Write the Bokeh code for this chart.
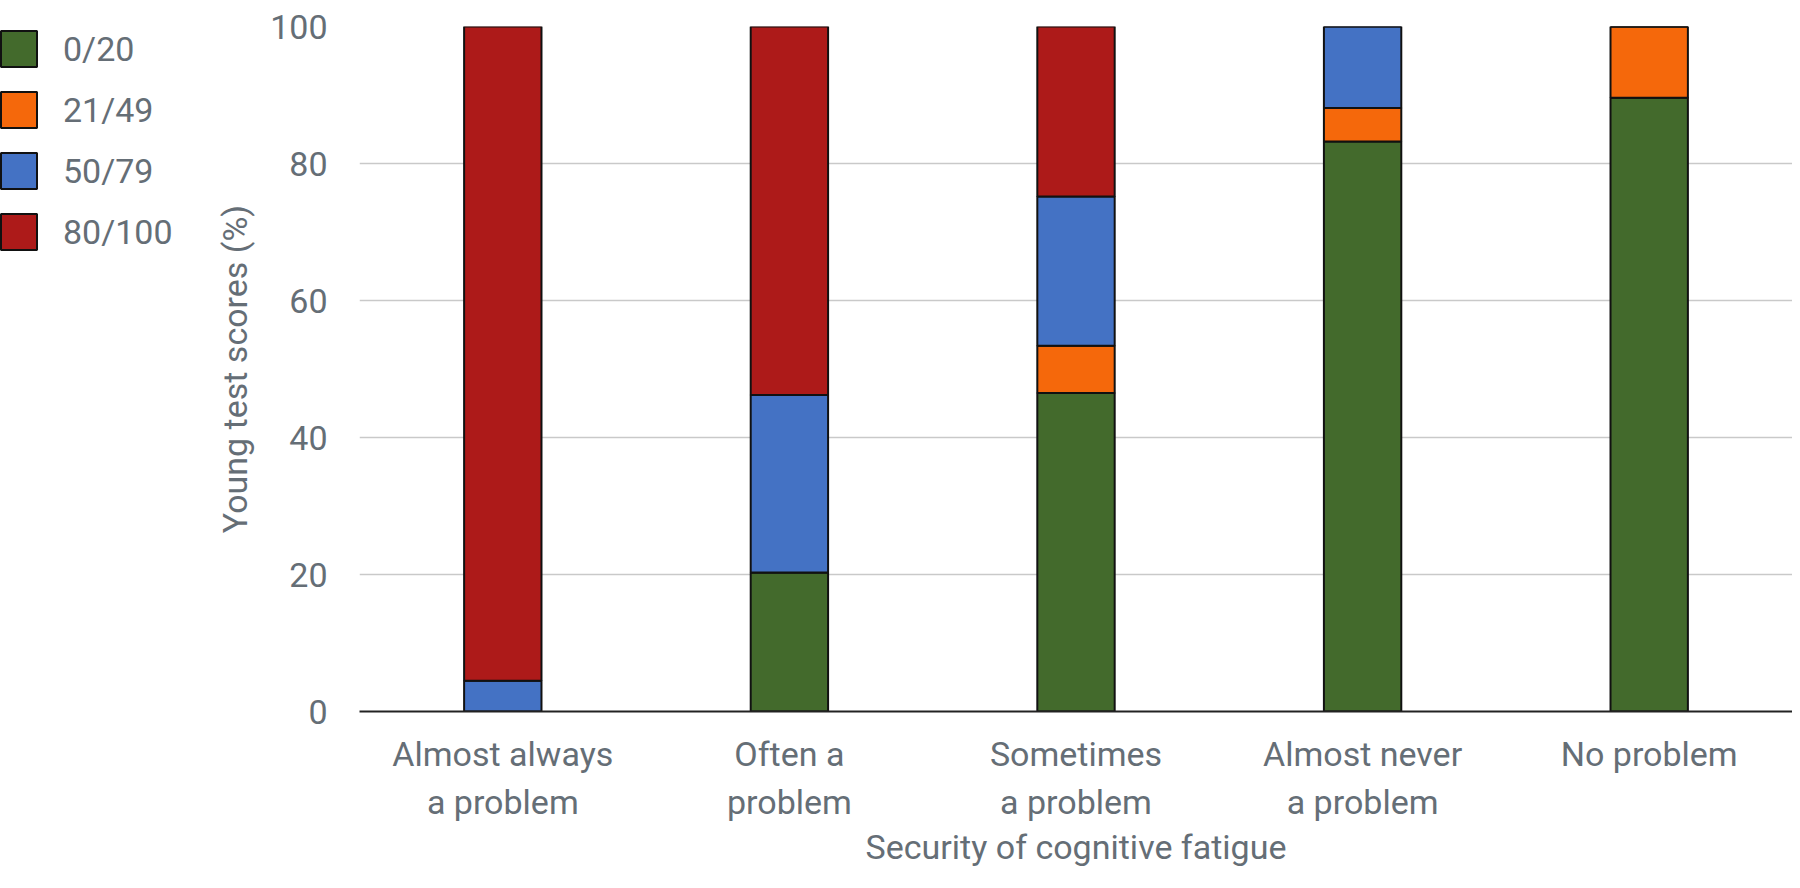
from bokeh.plotting import figure
from bokeh.models import FactorRange, Range1d, FixedTicker, Legend, LegendItem
from bokeh.layouts import row
from bokeh.embed import file_html
from bokeh.resources import INLINE

categories = ["Almost always\na problem", "Often a\nproblem", "Sometimes\na problem",
              "Almost never\na problem", "No problem"]
series_names = ["0/20", "21/49", "50/79", "80/100"]
s0_20 = [0.0, 20.3, 46.5, 83.2, 89.6]
s21_49 = [0.0, 0.0, 6.9, 4.9, 10.4]
s50_79 = [4.5, 25.9, 21.8, 11.9, 0.0]
s80_100 = [95.5, 53.8, 24.8, 0.0, 0.0]
y_ticks = [0, 20, 40, 60, 80, 100]

colors = ["#436A2C", "#F5680B", "#4472C4", "#AD1A19"]
FONT = "Roboto"
TXT = "#656e76"
FS = "34px"
H = 872
LEG_W = 200
TOP = 26
BOTTOM = 161

data = {"cat": categories, "0/20": s0_20, "21/49": s21_49, "50/79": s50_79, "80/100": s80_100}

# main chart
p = figure(x_range=FactorRange(*categories, range_padding=0), y_range=Range1d(0, 100),
           width=1792 - LEG_W, height=H, output_backend="svg", toolbar_location=None,
           min_border_left=359 - LEG_W, min_border_right=0, min_border_top=TOP,
           min_border_bottom=BOTTOM)

p.vbar_stack(series_names, x="cat", width=0.27, color=colors, source=data,
             line_color="#111111", line_width=2)

p.outline_line_color = None
p.xgrid.grid_line_color = None
p.ygrid.grid_line_color = "#c9c9c9"
p.ygrid.grid_line_width = 1.5
p.yaxis.ticker = FixedTicker(ticks=y_ticks)

for ax in (p.xaxis[0], p.yaxis[0]):
    ax.major_tick_line_color = None
    ax.minor_tick_line_color = None
    ax.major_label_text_font = FONT
    ax.major_label_text_font_size = FS
    ax.major_label_text_color = TXT
    ax.axis_label_text_font = FONT
    ax.axis_label_text_font_size = FS
    ax.axis_label_text_color = TXT
    ax.axis_label_text_font_style = "normal"

p.yaxis.axis_line_color = None
p.yaxis.major_label_standoff = 26
p.yaxis.axis_label = "Young test scores (%)"
p.yaxis.axis_label_standoff = 12
p.xaxis.axis_line_color = "#222222"
p.xaxis.axis_line_width = 2
p.xaxis.major_label_standoff = 16
p.xaxis.major_label_text_line_height = 1.22
p.xaxis.axis_label = "Security of cognitive fatigue"
p.xaxis.axis_label_standoff = 2

# legend panel: the same stacked bars, viewed below their values (so nothing of them
# shows in this panel); only their legend entries are seen
lf = figure(x_range=FactorRange(*categories), y_range=Range1d(-101, -100),
            width=LEG_W, height=H, output_backend="svg", toolbar_location=None,
            x_axis_type=None, y_axis_type=None, min_border=0)
lf.outline_line_color = None
lrs = lf.vbar_stack(series_names, x="cat", width=0.27, color=colors, source=data,
                    line_color="#111111", line_width=2)

frame_h = H - TOP - BOTTOM
leg_h = 4 * 45 + 3 * 16
legend = Legend(items=[LegendItem(label=n, renderers=[r]) for n, r in zip(series_names, lrs)],
                location=(-4, frame_h - leg_h), orientation="vertical",
                glyph_width=45, glyph_height=45, label_height=40, spacing=16,
                label_standoff=22, label_width=132, padding=0, margin=0,
                border_line_color=None, background_fill_color="white",
                background_fill_alpha=1.0, label_text_font=FONT,
                label_text_font_size=FS, label_text_color=TXT)
lf.add_layout(legend, "center")

open("out.html", "w").write(file_html(row(lf, p), INLINE))
